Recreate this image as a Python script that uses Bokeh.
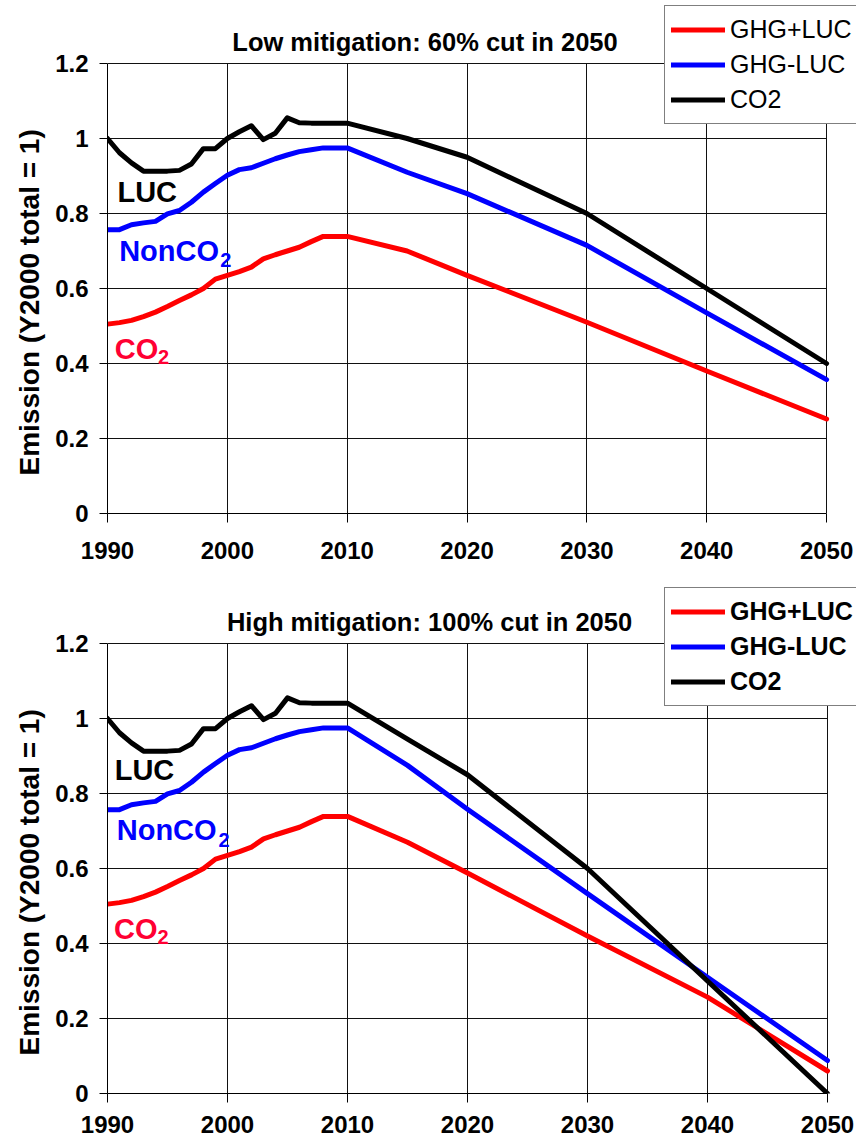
from bokeh.plotting import figure
from bokeh.models import (Range1d, FixedTicker, Legend, LegendItem, Label, Title,
                          CustomJSTickFormatter, Grid)
from bokeh.layouts import column
from bokeh.embed import file_html
from bokeh.resources import INLINE

# ---------------- data ----------------
hist_years = [1990, 1991, 1992, 1993, 1994, 1995, 1996, 1997, 1998, 1999, 2000,
              2001, 2002, 2003, 2004, 2005, 2006, 2007, 2008, 2009, 2010]
proj_years = [2015, 2020, 2030, 2040, 2050]

# black ("CO2" in legend)
co2_hist = [1.0, 0.962, 0.935, 0.913, 0.913, 0.913, 0.915, 0.932, 0.973, 0.973, 1.0,
            1.018, 1.034, 0.997, 1.014, 1.055, 1.042, 1.041, 1.041, 1.041, 1.041]
# blue ("GHG-LUC")
ghg_minus_hist = [0.757, 0.757, 0.770, 0.775, 0.779, 0.799, 0.808, 0.830, 0.857, 0.880, 0.902,
                  0.917, 0.922, 0.934, 0.946, 0.956, 0.965, 0.970, 0.975, 0.975, 0.975]
# red ("GHG+LUC")
ghg_plus_hist = [0.505, 0.509, 0.515, 0.525, 0.537, 0.552, 0.568, 0.583, 0.600, 0.625, 0.635,
                 0.645, 0.657, 0.679, 0.690, 0.700, 0.710, 0.725, 0.739, 0.739, 0.739]

# low mitigation projections
co2_low = [1.0, 0.95, 0.80, 0.60, 0.40]
ghg_minus_low = [0.91, 0.853, 0.715, 0.535, 0.357]
ghg_plus_low = [0.70, 0.635, 0.51, 0.38, 0.252]

# high mitigation projections
co2_high = [0.945, 0.85, 0.60, 0.30, 0.0]
ghg_minus_high = [0.875, 0.758, 0.533, 0.31, 0.088]
ghg_plus_high = [0.67, 0.588, 0.42, 0.257, 0.06]

series_labels = ["GHG+LUC", "GHG-LUC", "CO2"]
series_colors = ["#ff0000", "#0000ff", "#000000"]
titles = ["Low mitigation: 60% cut in 2050", "High mitigation: 100% cut in 2050"]
x_ticks = [1990, 2000, 2010, 2020, 2030, 2040, 2050]
y_ticks = [0, 0.2, 0.4, 0.6, 0.8, 1.0, 1.2]
y_label = "Emission (Y2000 total = 1)"

FONT = "Liberation Sans"
W = 856
X0, X1 = 1990, 2050
Y0, Y1 = 0.0, 1.2


def make_panel(title, red, blue, black, height, axis_left_px, axis_right_px, top_px,
               b_bottom, x_standoff, legend_loc, legend_bold, title_xy, ylab_offset, ann):
    # plot area spans to the right/top edge of the canvas so that the legend and
    # title (which overlap the surroundings in the original) are not clipped
    frame_w = W - axis_left_px
    frame_h = height - b_bottom
    ppx = (axis_right_px - axis_left_px) / (X1 - X0)        # px per year
    ppy = (frame_h - top_px) / (Y1 - Y0)                    # px per unit
    x_end = X0 + frame_w / ppx
    y_end = Y0 + frame_h / ppy

    p = figure(width=W, height=height, output_backend="svg", toolbar_location=None,
               x_range=Range1d(X0, x_end), y_range=Range1d(Y0, y_end),
               min_border_left=axis_left_px, min_border_right=0,
               min_border_top=0, min_border_bottom=b_bottom)
    p.background_fill_color = "white"
    p.border_fill_color = "white"
    p.outline_line_color = None

    for ax, ticks in ((p.xaxis, x_ticks), (p.yaxis, y_ticks)):
        ax.ticker = FixedTicker(ticks=ticks)
        ax.axis_line_color = "black"
        ax.axis_line_width = 1
        ax.major_tick_line_color = "black"
        ax.major_tick_in = 0
        ax.minor_tick_line_color = None
        ax.major_label_text_font = FONT
        ax.major_label_text_font_style = "bold"
        ax.major_label_text_font_size = "24px"
        ax.major_label_text_color = "black"
    p.xaxis.bounds = (X0, X1)
    p.yaxis.bounds = (Y0, Y1)
    p.xaxis.major_tick_out = 9
    p.yaxis.major_tick_out = 8
    p.xaxis.major_label_standoff = x_standoff
    p.yaxis.major_label_standoff = 11
    p.yaxis.formatter = CustomJSTickFormatter(
        code="return (Math.round(tick*10)/10).toString();")

    has_cross = "cross_bounds" in Grid.properties()
    for g, b, cb in ((p.xgrid, (X0, X1), (Y0, Y1)), (p.ygrid, (Y0, Y1), (X0, X1))):
        g.grid_line_color = "#111111"
        g.grid_line_width = 1
        g.bounds = b
        if has_cross:
            g.cross_bounds = cb
        else:
            g.grid_line_color = None
    if not has_cross:
        p.segment(x0=x_ticks, y0=[Y0] * len(x_ticks), x1=x_ticks, y1=[Y1] * len(x_ticks),
                  line_color="#111111", line_width=1)
        p.segment(x0=[X0] * len(y_ticks), y0=y_ticks, x1=[X1] * len(y_ticks), y1=y_ticks,
                  line_color="#111111", line_width=1)

    xs = hist_years + proj_years
    rends = []
    for ys, col in zip((red, blue, black), series_colors):
        r = p.line(xs, ys, line_color=col, line_width=5, line_join="round",
                   line_cap="round")
        rends.append(r)

    # title
    p.add_layout(Label(x=title_xy[0], y=title_xy[1], x_units="screen", y_units="screen",
                       text=title, text_font=FONT, text_font_style="bold",
                       text_font_size="25.5px", text_align="center",
                       text_baseline="alphabetic", text_color="black"))

    # y axis label as a side title (left panel)
    yl = Title(text=y_label, align="left", offset=ylab_offset, standoff=16,
               text_font=FONT, text_font_style="bold", text_font_size="28px",
               text_color="black")
    p.add_layout(yl, "left")

    legend = Legend(items=[LegendItem(label=lab, renderers=[r])
                           for lab, r in zip(series_labels, rends)],
                    location=legend_loc)
    legend.margin = 0
    legend.padding = 6
    legend.spacing = 0
    legend.glyph_width = 54
    legend.glyph_height = 35
    legend.label_height = 35
    legend.label_standoff = 5
    legend.label_text_font = FONT
    legend.label_text_font_size = "25px"
    legend.label_text_font_style = "bold" if legend_bold else "normal"
    legend.label_text_color = "black"
    legend.border_line_color = "black"
    legend.border_line_width = 1
    legend.background_fill_color = "white"
    legend.background_fill_alpha = 1.0
    p.add_layout(legend)

    # in-chart annotations
    for (tx, ty, txt, col, size) in ann:
        p.add_layout(Label(x=tx, y=ty, text=txt, text_font=FONT, text_font_style="bold",
                           text_font_size=size, text_color=col, text_align="left",
                           text_baseline="alphabetic"))
    return p


ann_top = [
    (1990.83, 0.858, "LUC", "#000000", "29px"),
    (1990.97, 0.699, "NonCO", "#0000ff", "29px"),
    (1999.40, 0.677, "2", "#0000ff", "20px"),
    (1990.60, 0.438, "CO", "#ff0033", "29px"),
    (1994.22, 0.417, "2", "#ff0033", "20px"),
]
ann_bot = [
    (1990.60, 0.864, "LUC", "#000000", "29px"),
    (1990.77, 0.704, "NonCO", "#0000ff", "29px"),
    (1999.25, 0.677, "2", "#0000ff", "20px"),
    (1990.55, 0.440, "CO", "#ff0033", "29px"),
    (1994.17, 0.418, "2", "#ff0033", "20px"),
]

# top panel: axes at x=105..826, y=63..513 (canvas 0..576)
p1 = make_panel(titles[0], ghg_plus_hist + ghg_plus_low, ghg_minus_hist + ghg_minus_low,
                co2_hist + co2_low, height=576, axis_left_px=105, axis_right_px=826,
                top_px=63, b_bottom=63, x_standoff=19, legend_loc=(557, 389),
                legend_bold=False, title_xy=(317.5, 472), ylab_offset=38, ann=ann_top)
# bottom panel: axes at x=107..827, y=643..1093 (canvas 576..1144)
p2 = make_panel(titles[1], ghg_plus_hist + ghg_plus_high, ghg_minus_hist + ghg_minus_high,
                co2_hist + co2_high, height=568, axis_left_px=107, axis_right_px=827,
                top_px=67, b_bottom=51, x_standoff=13, legend_loc=(557, 387),
                legend_bold=True, title_xy=(322, 472), ylab_offset=38, ann=ann_bot)

layout = column(p1, p2, spacing=0)
open("out.html", "w").write(file_html(layout, INLINE))
